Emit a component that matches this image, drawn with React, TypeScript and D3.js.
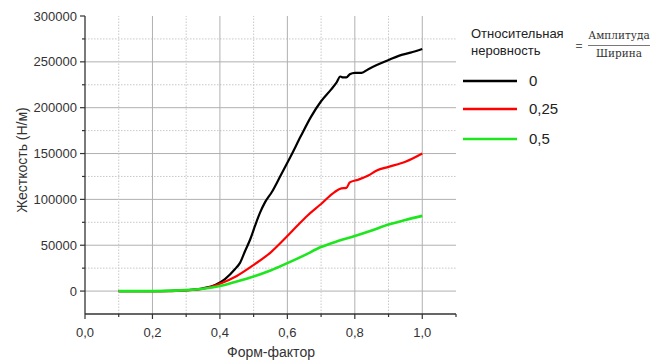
import * as d3 from "d3";

const W = 663;
const H = 362;

const xTicks = [0, 0.2, 0.4, 0.6, 0.8, 1.0];
const xMinor = [0.1, 0.3, 0.5, 0.7, 0.9];
const yTicks = [0, 50000, 100000, 150000, 200000, 250000, 300000];
const yMinor = [-25000, 25000, 75000, 125000, 175000, 225000, 275000];

// relative roughness 0
const x0 = [0.1, 0.2, 0.25, 0.3, 0.35, 0.386, 0.415, 0.445, 0.46, 0.475, 0.49, 0.504, 0.519, 0.534, 0.554, 0.58, 0.61, 0.64, 0.67, 0.7, 0.73, 0.745, 0.757, 0.765, 0.775, 0.785, 0.8, 0.82, 0.84, 0.865, 0.9, 0.93, 0.965, 1.0];
const y0 = [0, 0, 200, 1000, 3000, 6500, 13000, 24000, 31000, 44000, 56500, 71000, 85500, 97000, 108000, 126000, 147000, 169000, 190000, 207000, 220000, 227000, 234000, 233000, 233000, 236500, 238000, 238000, 242000, 246500, 252000, 256500, 260000, 264000];

// relative roughness 0.25
const x25 = [0.1, 0.2, 0.25, 0.3, 0.35, 0.4, 0.45, 0.5, 0.55, 0.6, 0.63, 0.66, 0.7, 0.74, 0.76, 0.775, 0.785, 0.81, 0.84, 0.865, 0.9, 0.95, 1.0];
const y25 = [0, 0, 0, 800, 2500, 8000, 16500, 28500, 42000, 60000, 71500, 82500, 95000, 108000, 112000, 112500, 118500, 121500, 126000, 131500, 135500, 141000, 150000];

// relative roughness 0.5
const x50 = [0.1, 0.2, 0.3, 0.35, 0.4, 0.45, 0.5, 0.55, 0.6, 0.65, 0.7, 0.75, 0.8, 0.85, 0.9, 0.95, 1.0];
const y50 = [0, 0, 1000, 2500, 5500, 10500, 16000, 22500, 30500, 39000, 48000, 54500, 60000, 66000, 72500, 77500, 82000];

const seriesNames = ["0", "0,25", "0,5"];
const seriesColors = ["#000000", "#ff0000", "#1ee61e"];

const fmtX = (v: number) => v.toFixed(1).replace(".", ",");

export default function App() {
  const x = d3.scaleLinear().domain([0, 1.1]).range([85, 456]);
  const y = d3.scaleLinear().domain([-25000, 300000]).range([314, 16]);

  const line = d3
    .line<[number, number]>()
    .x((d) => x(d[0]))
    .y((d) => y(d[1]))
    .curve(d3.curveMonotoneX);

  const series = [
    d3.zip(x0, y0) as [number, number][],
    d3.zip(x25, y25) as [number, number][],
    d3.zip(x50, y50) as [number, number][],
  ];

  const font = "'Liberation Sans', Arial, sans-serif";

  return (
    <svg width={W} height={H} style={{ position: "absolute", left: 0, top: 0, background: "#fff" }} fontFamily={font}>
      {/* grid */}
      {yMinor.slice(1).map((v) => (
        <line key={"ym" + v} x1={x(0)} x2={x(1.1)} y1={y(v)} y2={y(v)} stroke="#c8c8c8" strokeDasharray="1.5,1.5" />
      ))}
      {yTicks.slice(0, -1).map((v) => (
        <line key={"yg" + v} x1={x(0)} x2={x(1.1)} y1={y(v)} y2={y(v)} stroke="#b0b0b0" />
      ))}
      {xMinor.map((v) => (
        <line key={"xm" + v} x1={x(v)} x2={x(v)} y1={y(-25000)} y2={y(300000)} stroke="#c8c8c8" strokeDasharray="1.5,1.5" />
      ))}
      {xTicks.slice(1).map((v) => (
        <line key={"xg" + v} x1={x(v)} x2={x(v)} y1={y(-25000)} y2={y(300000)} stroke="#b0b0b0" />
      ))}

      {/* curves */}
      {series.map((s, i) => (
        <path key={i} d={line(s) ?? ""} fill="none" stroke={seriesColors[i]} strokeWidth={i === 2 ? 2.6 : 2.2} strokeLinejoin="round" />
      ))}

      {/* axes */}
      <line x1={x(0)} x2={x(0)} y1={y(-25000)} y2={y(300000)} stroke="#333" strokeWidth={1.3} />
      <line x1={x(0)} x2={x(1.1)} y1={y(-25000)} y2={y(-25000)} stroke="#333" strokeWidth={1.3} />
      {yTicks.map((v) => (
        <g key={"yt" + v}>
          <line x1={x(0) - 5} x2={x(0)} y1={y(v)} y2={y(v)} stroke="#333" strokeWidth={1.2} />
          <text x={x(0) - 8} y={y(v)} dy="0.35em" textAnchor="end" fontSize={13} fill="#333">
            {v}
          </text>
        </g>
      ))}
      {yMinor.slice(1).map((v) => (
        <line key={"ymt" + v} x1={x(0) - 3} x2={x(0)} y1={y(v)} y2={y(v)} stroke="#333" strokeWidth={1.2} />
      ))}
      {xTicks.map((v) => (
        <g key={"xt" + v}>
          <line x1={x(v)} x2={x(v)} y1={y(-25000)} y2={y(-25000) + 5} stroke="#333" strokeWidth={1.2} />
          <text x={x(v)} y={337} textAnchor="middle" fontSize={13} fill="#333">
            {fmtX(v)}
          </text>
        </g>
      ))}
      {xMinor.concat([1.1]).map((v) => (
        <line key={"xmt" + v} x1={x(v)} x2={x(v)} y1={y(-25000)} y2={y(-25000) + 3} stroke="#333" strokeWidth={1.2} />
      ))}

      {/* axis titles */}
      <text transform="translate(27,160) rotate(-90)" textAnchor="middle" fontSize={14} fill="#333">
        Жесткость (Н/м)
      </text>
      <text x={271} y={357} textAnchor="middle" fontSize={14} fill="#333">
        Форм-фактор
      </text>

      {/* legend */}
      <text x={471} y={38} fontSize={13} fill="#222">Относительная</text>
      <text x={471} y={55} fontSize={13} fill="#222">неровность</text>
      <text x={579} y={50} fontSize={12} fill="#555" textAnchor="middle">=</text>
      <text x={619} y={39} fontSize={10.5} fill="#333" textAnchor="middle" fontFamily="'DejaVu Serif', 'Liberation Serif', serif">Амплитуда</text>
      <line x1={588} x2={650} y1={45.5} y2={45.5} stroke="#555" strokeWidth={0.8} />
      <text x={619} y={57} fontSize={10.5} fill="#333" textAnchor="middle" fontFamily="'DejaVu Serif', 'Liberation Serif', serif">Ширина</text>
      {seriesNames.map((n, i) => {
        const ly = [81, 109, 139][i];
        return (
          <g key={n}>
            <line x1={463} x2={517} y1={ly} y2={ly} stroke={seriesColors[i]} strokeWidth={2.4} />
            <text x={529} y={ly} dy="0.36em" fontSize={15} fill="#222">
              {n}
            </text>
          </g>
        );
      })}
    </svg>
  );
}
